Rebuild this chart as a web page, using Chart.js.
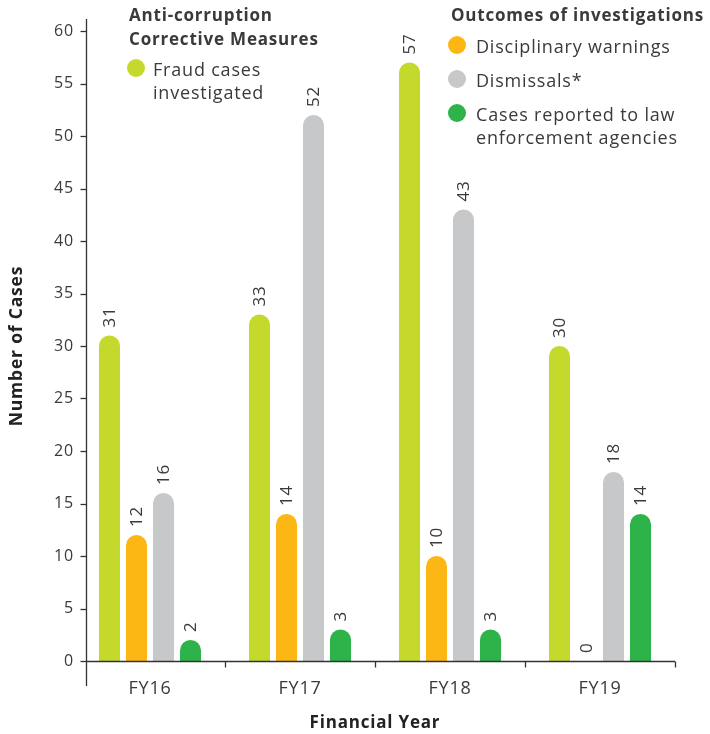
<!DOCTYPE html>
<html>
<head>
<meta charset="utf-8">
<script src="https://cdn.jsdelivr.net/npm/chart.js@4/dist/chart.umd.min.js"></script>
<style>
html,body{margin:0;padding:0;background:#fff;}
#wrap{width:710px;height:734px;}
</style>
</head>
<body>
<div id="wrap"><canvas id="c" width="710" height="734"></canvas></div>
<script>
const categories = ['FY16', 'FY17', 'FY18', 'FY19'];
const fraudCases = [31, 33, 57, 30];
const disciplinaryWarnings = [12, 14, 10, 0];
const dismissals = [16, 52, 43, 18];
const reportedCases = [2, 3, 3, 14];
const seriesNames = ['Fraud cases investigated', 'Disciplinary warnings', 'Dismissals*', 'Cases reported to law enforcement agencies'];
const legendLines = [['Fraud cases', 'investigated'], ['Disciplinary warnings'], ['Dismissals*'], ['Cases reported to law', 'enforcement agencies']];
const legendGroupTitles = [['Anti-corruption', 'Corrective Measures'], ['Outcomes of investigations']];
const legendGroups = [[0], [1, 2, 3]];
const colors = ['#c5d92d', '#fdb714', '#c7c8ca', '#2db34a'];
const yTickStep = 5;
const yMax = 60;

const TEXT = '#3a3a3a';
const FONT = '"Open Sans", "DejaVu Sans", sans-serif';
const SPACING = '0.8px';

function line(ctx, x1, y1, x2, y2) {
  ctx.beginPath(); ctx.moveTo(x1, y1); ctx.lineTo(x2, y2); ctx.stroke();
}

const spacingPlugin = {
  id: 'spacingPlugin',
  beforeDraw(chart) { chart.ctx.letterSpacing = SPACING; }
};

const axesPlugin = {
  id: 'axesPlugin',
  afterDraw(chart) {
    const ctx = chart.ctx;
    const {left, right, top, bottom} = chart.chartArea;
    const xs = chart.scales.x, ys = chart.scales.y;
    const axisX = Math.round(left + 11) + 0.5;
    const baseY = Math.round(bottom) + 0.5;
    ctx.save();
    ctx.strokeStyle = '#333';
    ctx.lineWidth = 1.3;
    line(ctx, axisX, top - 12, axisX, bottom + 25);
    ys.ticks.forEach(t => {
      const y = Math.round(ys.getPixelForValue(t.value)) + 0.5;
      line(ctx, axisX - 6, y, axisX, y);
    });
    line(ctx, axisX, baseY, right, baseY);
    const w = xs.width / xs.ticks.length;
    xs.ticks.forEach((t, i) => {
      const x = Math.round(xs.getPixelForTick(i) + w / 2) + 0.5;
      line(ctx, x, baseY, x, baseY + 6);
    });
    ctx.restore();
  }
};

const valueLabels = {
  id: 'valueLabels',
  afterDatasetsDraw(chart) {
    const ctx = chart.ctx;
    ctx.save();
    ctx.fillStyle = TEXT;
    ctx.font = '17px ' + FONT;
    ctx.textAlign = 'left';
    ctx.textBaseline = 'middle';
    chart.data.datasets.forEach((ds, di) => {
      const meta = chart.getDatasetMeta(di);
      meta.data.forEach((el, i) => {
        ctx.save();
        ctx.translate(el.x + 1, el.y - 8);
        ctx.rotate(-Math.PI / 2);
        ctx.fillText(String(ds.data[i]), 0, 0);
        ctx.restore();
      });
    });
    ctx.restore();
  }
};

const groupLegend = {
  id: 'groupLegend',
  afterDraw(chart) {
    const ctx = chart.ctx;
    const pos = [
      {x: 129, titleY: 21, dotX: 136, textX: 153, rowY: [68]},
      {x: 451, titleY: 21, dotX: 457, textX: 476, rowY: [45, 79, 113]}
    ];
    ctx.save();
    legendGroups.forEach((grp, gi) => {
      const p = pos[gi];
      ctx.fillStyle = TEXT;
      ctx.font = 'bold 17px ' + FONT;
      ctx.textAlign = 'left';
      ctx.textBaseline = 'alphabetic';
      legendGroupTitles[gi].forEach((t, li) => ctx.fillText(t, p.x, p.titleY + li * 24));
      grp.forEach((di, k) => {
        const ds = chart.data.datasets[di];
        const cy = p.rowY[k];
        ctx.fillStyle = ds.backgroundColor;
        ctx.beginPath(); ctx.arc(p.dotX, cy, 9, 0, Math.PI * 2); ctx.fill();
        ctx.fillStyle = TEXT;
        ctx.font = '18px ' + FONT;
        legendLines[di].forEach((t, li) => ctx.fillText(t, p.textX, cy + 8 + li * 23));
      });
    });
    ctx.restore();
  }
};

const seriesData = [fraudCases, disciplinaryWarnings, dismissals, reportedCases];

new Chart(document.getElementById('c'), {
  type: 'bar',
  data: {
    labels: categories,
    datasets: seriesData.map((d, i) => ({
      label: seriesNames[i],
      data: d,
      backgroundColor: colors[i],
      borderRadius: {topLeft: 11, topRight: 11, bottomLeft: 0, bottomRight: 0},
      borderSkipped: 'start',
      categoryPercentage: 0.72,
      barPercentage: 0.78
    }))
  },
  options: {
    responsive: false,
    animation: false,
    layout: {padding: {top: 31, right: 35, left: 0, bottom: 0}},
    plugins: {legend: {display: false}, tooltip: {enabled: false}},
    scales: {
      x: {
        grid: {display: false, drawTicks: false},
        border: {display: false},
        ticks: {color: TEXT, font: {family: FONT, size: 18}, padding: 17},
        title: {display: true, text: 'Financial Year', color: '#222', font: {family: FONT, size: 17, weight: 'bold'}, padding: {top: 0, bottom: 1}},
        afterFit(s) { s.height = 73; }
      },
      y: {
        min: 0, max: yMax,
        grid: {display: false, drawTicks: false},
        border: {display: false},
        ticks: {stepSize: yTickStep, color: TEXT, font: {family: FONT, size: 16}, padding: 1},
        title: {display: true, text: 'Number of Cases', color: '#222', font: {family: FONT, size: 17.5, weight: 'bold'}, padding: {top: 7, bottom: 0}},
        afterFit(s) { s.width = 75; }
      }
    }
  },
  plugins: [spacingPlugin, axesPlugin, valueLabels, groupLegend]
});
</script>
</body>
</html>
